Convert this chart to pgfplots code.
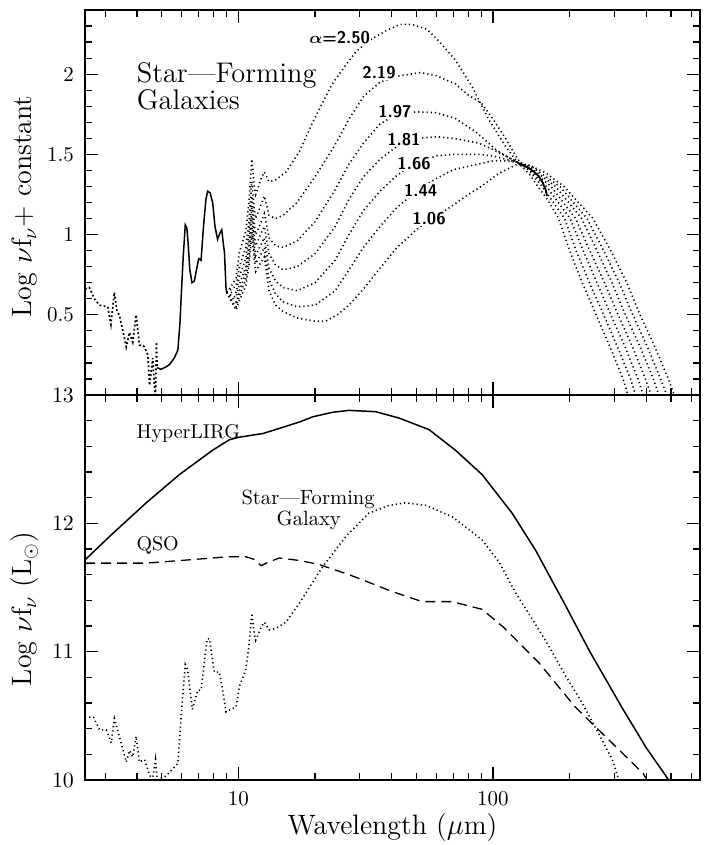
\documentclass[border=0pt]{standalone}
\usepackage{pgfplots}
\pgfplotsset{compat=1.18}
\usepackage{bm}
\begin{document}
\begin{tikzpicture}
\useasboundingbox (-42.5pt,-32.5pt) rectangle (309pt,390pt);
% ---------------- lower panel ----------------
\begin{semilogxaxis}[scale only axis, width=307.5pt, height=192.5pt,
  xmin=2.5, xmax=650, xtick={10,100},
  minor xtick={3,4,5,6,7,8,9,20,30,40,50,60,70,80,90,200,300,400,500,600},
  major tick length=6.5pt, minor tick length=3.5pt,
  tick style={black, line width=0.6pt},
  axis line style={line width=0.6pt},
  tick label style={font=\fontsize{10.5}{12}\selectfont},
  yticklabel style={xshift=-2pt},
  label style={font=\fontsize{14}{16}\selectfont},
  at={(0pt,0pt)}, anchor=south west,
  ymin=10, ymax=13, ytick={10,11,12,13},
  minor ytick={10.2,10.4,10.6,10.8,11.2,11.4,11.6,11.8,12.2,12.4,12.6,12.8},
  xticklabels={10,100}, xticklabel style={yshift=-2pt},
  xlabel={Wavelength ($\mu$m)}, ylabel={Log $\nu$f$_\nu$ (L$_\odot$)},
  xlabel style={at={(axis description cs:0.5,0)}, anchor=center, yshift=-24pt},
  ylabel style={at={(axis description cs:-0.0976,0.444)}, anchor=center},
]
% HyperLIRG
\addplot[black, line width=0.75pt] coordinates {
(2.5,11.715)(3.21,11.92)(4.35,12.16)(5.87,12.38)(7.93,12.57)(9.2,12.65)(10,12.67)(12.5,12.70)(14.5,12.74)(17.4,12.79)(19.6,12.83)(23.4,12.865)(27.2,12.88)(34.6,12.87)(42.8,12.82)(56.1,12.73)(71.2,12.57)(90.6,12.38)(118.8,12.08)(147,11.79)(192.6,11.36)(240,11.0)(322,10.56)(400,10.25)(490,10.0)};
% QSO
\addplot[black, line width=0.65pt, dash pattern=on 5pt off 3pt] coordinates {
(2.5,11.69)(4.35,11.69)(5.9,11.71)(9.2,11.74)(10.7,11.74)(11.5,11.72)(12.3,11.67)(13.2,11.70)(14.5,11.73)(17.4,11.71)(20.7,11.68)(27.2,11.60)(30.7,11.56)(40,11.47)(52.7,11.39)(69,11.39)(90.6,11.33)(110,11.19)(152,10.91)(210,10.57)(300,10.27)(389,10.05)(403,10.0)};
% Star-forming galaxy
\addplot[black, line width=0.8pt, dash pattern=on 0.6pt off 1.5pt] coordinates {
(2.5,10.49)(2.7,10.49)(2.85,10.39)(3.03,10.39)(3.17,10.29)(3.26,10.48)(3.41,10.34)(3.63,10.14)(3.74,10.23)(3.85,10.18)(3.97,10.34)(4.09,10.14)(4.28,10.16)(4.48,10.04)(4.6,10.0)(4.73,10.16)(4.8,10.0)(5.2,10.03)(5.79,10.13)(5.96,10.49)(6.19,10.90)(6.32,10.86)(6.6,10.55)(6.93,10.70)(7.14,10.70)(7.54,11.10)(7.7,11.10)(8.05,10.84)(8.42,10.84)(8.68,10.70)(8.95,10.53)(9.8,10.57)(10.1,10.73)(10.7,10.86)(11.0,11.04)(11.3,11.30)(11.55,11.14)(11.7,11.09)(12.3,11.19)(12.65,11.23)(13.2,11.17)(14.0,11.18)(15.4,11.23)(17.4,11.38)(21.4,11.66)(26.5,11.90)(32.6,12.08)(39.1,12.14)(45.5,12.16)(54.5,12.14)(69.3,12.05)(83,11.93)(90.6,11.87)(105.5,11.70)(122.6,11.46)(143,11.25)(166,11.04)(193,10.81)(224,10.60)(260,10.36)(294,10.16)(312,10.0)};
\node[anchor=base west, inner sep=0pt] at (axis cs:3.97,12.663) {\fontsize{10}{12}\selectfont HyperLIRG};
\node[anchor=base west, inner sep=0pt] at (axis cs:3.97,11.787) {\fontsize{10}{12}\selectfont QSO};
\node[anchor=base, inner sep=0pt] at (axis cs:18.8,12.15) {\fontsize{10.3}{12}\selectfont Star---Forming};
\node[anchor=base, inner sep=0pt] at (axis cs:18.9,11.985) {\fontsize{10.3}{12}\selectfont Galaxy};
\end{semilogxaxis}
% ---------------- upper panel ----------------
\begin{semilogxaxis}[scale only axis, width=307.5pt, height=192.5pt,
  xmin=2.5, xmax=650, xtick={10,100},
  minor xtick={3,4,5,6,7,8,9,20,30,40,50,60,70,80,90,200,300,400,500,600},
  major tick length=6.5pt, minor tick length=3.5pt,
  tick style={black, line width=0.6pt},
  axis line style={line width=0.6pt},
  tick label style={font=\fontsize{10.5}{12}\selectfont},
  yticklabel style={xshift=-2pt},
  label style={font=\fontsize{14}{16}\selectfont},
  at={(0pt,192.5pt)}, anchor=south west,
  ymin=0, ymax=2.4, ytick={0,0.5,1,1.5,2}, yticklabels={,0.5,1,1.5,2},
  minor ytick={0.1,0.2,0.3,0.4,0.6,0.7,0.8,0.9,1.1,1.2,1.3,1.4,1.6,1.7,1.8,1.9,2.1,2.2,2.3},
  xticklabels={},
  ylabel={Log $\nu$f$_\nu$+ constant},
  ylabel style={at={(axis description cs:-0.0976,0.49)}, anchor=center},
]
\addplot[black, line width=0.85pt, dash pattern=on 0.9pt off 1.2pt] coordinates {
(2.5,0.66)(2.6,0.67)(2.72,0.60)(2.85,0.56)(2.95,0.555)(3.07,0.55)(3.16,0.44)(3.26,0.64)(3.34,0.52)(3.41,0.50)(3.52,0.40)(3.63,0.30)(3.74,0.39)(3.85,0.33)(3.97,0.50)(4.09,0.31)(4.2,0.31)(4.28,0.30)(4.41,0.25)(4.48,0.06)(4.55,0.15)(4.61,0.23)(4.68,0.06)(4.73,0.0)(4.77,0.33)(4.8,0.17)};
\addplot[black, line width=0.75pt] coordinates {
(4.8,0.17)(4.97,0.16)(5.2,0.175)(5.37,0.19)(5.6,0.23)(5.79,0.28)(5.9,0.45)(5.96,0.60)(6.07,0.85)(6.19,1.06)(6.28,1.04)(6.35,0.95)(6.45,0.78)(6.58,0.70)(6.72,0.71)(6.85,0.78)(6.99,0.85)(7.14,0.84)(7.3,1.05)(7.46,1.22)(7.58,1.27)(7.75,1.26)(7.93,1.20)(8.1,1.05)(8.29,0.97)(8.47,1.01)(8.61,1.03)(8.72,0.95)(8.82,0.89)(8.95,0.66)(9.0,0.64)};
\addplot[black, line width=0.9pt] coordinates {
(126,1.44)(132,1.43)(138,1.415)(145,1.39)(151,1.365)(156,1.33)(161,1.28)(163,1.24)};
% alpha = 2.50
\addplot[black, line width=0.8pt, dash pattern=on 0.6pt off 1.5pt] coordinates {
(9.0,0.64)(9.4,0.68)(9.8,0.73)(10.1,0.89)(10.7,1.02)(11.0,1.20)(11.3,1.47)(11.55,1.30)(11.7,1.25)(12.3,1.35)(12.65,1.39)(13.2,1.33)(14,1.34)(15.4,1.39)(17.4,1.52)(19.6,1.70)(21.4,1.82)(23.4,1.94)(26.5,2.06)(29,2.14)(32.6,2.21)(38,2.27)(43,2.31)(48,2.31)(55,2.28)(61,2.21)(71,2.09)(83,1.92)(96,1.72)(112,1.55)(125,1.45)(140,1.37)(150,1.30)(165,1.21)(181,1.10)(200,0.90)(224,0.70)(254,0.50)(288,0.30)(324,0.10)(339,0.0)};
% alpha = 2.19
\addplot[black, line width=0.8pt, dash pattern=on 0.6pt off 1.5pt] coordinates {
(9.0,0.64)(9.4,0.66)(9.8,0.68)(10.1,0.80)(10.7,0.92)(11.0,1.08)(11.3,1.33)(11.55,1.16)(11.7,1.10)(12.3,1.19)(12.65,1.24)(13.2,1.12)(14,1.10)(15,1.12)(17,1.20)(20,1.36)(24,1.56)(27.2,1.72)(31,1.86)(36,1.95)(43,1.99)(52,2.01)(60,1.99)(71,1.94)(80,1.87)(90,1.82)(100,1.72)(112,1.60)(125,1.47)(140,1.39)(156,1.30)(191,1.10)(212,0.90)(239,0.70)(272,0.50)(308,0.30)(347,0.10)(363,0.0)};
% alpha = 1.97
\addplot[black, line width=0.8pt, dash pattern=on 0.6pt off 1.5pt] coordinates {
(9.0,0.64)(9.4,0.64)(9.8,0.64)(10.1,0.74)(10.7,0.85)(11.0,1.00)(11.3,1.24)(11.55,1.07)(11.7,1.00)(12.3,1.08)(12.65,1.13)(13.2,0.98)(14,0.93)(15,0.92)(17,0.96)(20,1.08)(24,1.28)(27.2,1.44)(31,1.57)(36,1.69)(42,1.75)(50,1.765)(59.5,1.76)(71,1.725)(85.6,1.64)(102.6,1.53)(115,1.48)(125,1.45)(140,1.40)(162,1.30)(201,1.10)(226,0.90)(256,0.70)(290,0.50)(330,0.30)(371,0.10)(389,0.0)};
% alpha = 1.81
\addplot[black, line width=0.8pt, dash pattern=on 0.6pt off 1.5pt] coordinates {
(9.0,0.64)(9.4,0.62)(9.8,0.61)(10.1,0.69)(10.7,0.80)(11.0,0.94)(11.3,1.17)(11.55,1.00)(11.7,0.93)(12.3,1.01)(12.65,1.05)(13.2,0.88)(14,0.81)(15,0.78)(17,0.80)(20,0.88)(24,1.05)(27.2,1.22)(31,1.36)(36,1.47)(42,1.55)(50,1.60)(60,1.61)(70,1.60)(88,1.57)(100,1.53)(112,1.49)(125,1.45)(140,1.41)(169,1.30)(211,1.10)(240,0.90)(274,0.70)(310,0.50)(353,0.30)(397,0.10)(418,0.0)};
% alpha = 1.66
\addplot[black, line width=0.8pt, dash pattern=on 0.6pt off 1.5pt] coordinates {
(9.0,0.64)(9.4,0.61)(9.8,0.58)(10.1,0.65)(10.7,0.76)(11.0,0.89)(11.3,1.11)(11.55,0.94)(11.7,0.87)(12.3,0.94)(12.65,0.98)(13.2,0.79)(14,0.71)(15,0.67)(17,0.65)(20,0.70)(24,0.84)(27.2,1.00)(31,1.15)(36,1.27)(42,1.37)(50,1.45)(60,1.49)(70,1.50)(88,1.50)(100,1.49)(112,1.47)(125,1.45)(140,1.42)(176,1.30)(223,1.10)(256,0.90)(293,0.70)(331,0.50)(378,0.30)(426,0.10)(448,0.0)};
% alpha = 1.44
\addplot[black, line width=0.8pt, dash pattern=on 0.6pt off 1.5pt] coordinates {
(9.0,0.64)(9.4,0.59)(9.8,0.55)(10.1,0.62)(10.7,0.72)(11.0,0.84)(11.3,1.05)(11.55,0.89)(11.7,0.82)(12.3,0.88)(12.65,0.92)(13.2,0.72)(14,0.63)(15,0.58)(17,0.55)(20,0.56)(24,0.65)(27.2,0.78)(31,0.92)(36,1.05)(42,1.17)(52,1.29)(60,1.35)(70,1.405)(88,1.44)(100,1.46)(112,1.46)(125,1.45)(140,1.43)(183,1.30)(234,1.10)(272,0.90)(313,0.70)(354,0.50)(404,0.30)(455,0.10)(481,0.0)};
% alpha = 1.06
\addplot[black, line width=0.8pt, dash pattern=on 0.6pt off 1.5pt] coordinates {
(9.0,0.64)(9.4,0.58)(9.8,0.53)(10.1,0.59)(10.7,0.68)(11.0,0.80)(11.3,1.00)(11.55,0.84)(11.7,0.77)(12.3,0.83)(12.65,0.86)(13.2,0.65)(14,0.56)(15,0.52)(17,0.48)(20,0.46)(22,0.46)(24.5,0.50)(27.2,0.56)(31,0.66)(36,0.79)(42,0.92)(50,1.03)(57,1.10)(65,1.15)(80,1.25)(90,1.30)(105,1.38)(125,1.44)(140,1.43)(161,1.385)(190,1.30)(247,1.10)(290,0.90)(335,0.70)(378,0.50)(432,0.30)(488,0.10)(515,0.0)};
\node[anchor=base west, inner sep=0pt] at (axis cs:3.98,1.948) {\fontsize{14.2}{16}\selectfont Star---Forming};
\node[anchor=base west, inner sep=0pt] at (axis cs:3.98,1.782) {\fontsize{14.2}{16}\selectfont Galaxies};
\node[fill=white, inner sep=0.6pt] at (axis cs:25,2.23) {\sffamily\bfseries\fontsize{8.5}{9}\selectfont $\bm{\alpha}$=2.50};
\node[fill=white, inner sep=0.6pt] at (axis cs:35.7,2.01) {\sffamily\bfseries\fontsize{8.5}{9}\selectfont 2.19};
\node[fill=white, inner sep=0.6pt] at (axis cs:41.2,1.765) {\sffamily\bfseries\fontsize{8.5}{9}\selectfont 1.97};
\node[fill=white, inner sep=0.6pt] at (axis cs:44.7,1.594) {\sffamily\bfseries\fontsize{8.5}{9}\selectfont 1.81};
\node[fill=white, inner sep=0.6pt] at (axis cs:49,1.444) {\sffamily\bfseries\fontsize{8.5}{9}\selectfont 1.66};
\node[fill=white, inner sep=0.6pt] at (axis cs:52,1.276) {\sffamily\bfseries\fontsize{8.5}{9}\selectfont 1.44};
\node[fill=white, inner sep=0.6pt] at (axis cs:56.1,1.098) {\sffamily\bfseries\fontsize{8.5}{9}\selectfont 1.06};
\end{semilogxaxis}
\end{tikzpicture}
\end{document}
